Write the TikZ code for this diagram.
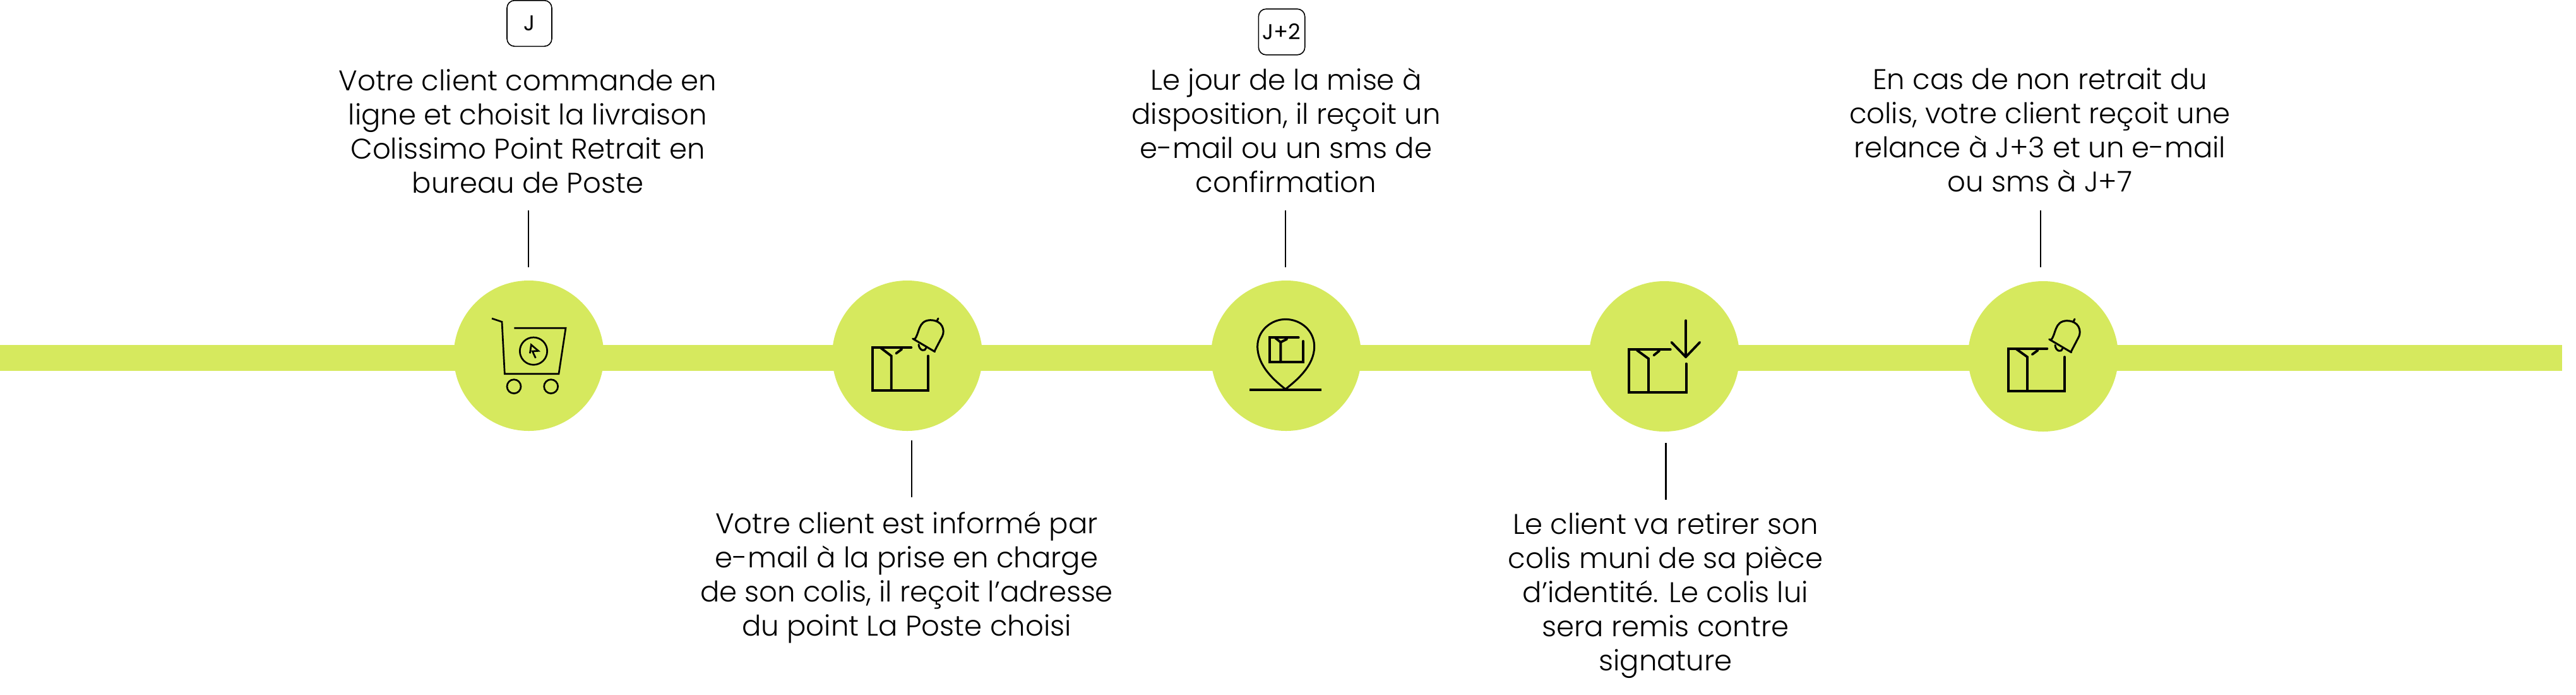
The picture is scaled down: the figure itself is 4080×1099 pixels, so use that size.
\documentclass[tikz,border=0pt]{standalone}
\usepackage{fontspec}
\setmainfont{Poppins}[UprightFont=* Light]
\newfontfamily\boxfont{Poppins}
\definecolor{lime}{HTML}{D6E95E}
\newcommand{\fl}{\rule{0pt}{20pt}}
\newcommand{\parcel}[8]{%
 \draw[iconthick] (#1) -- (#2) -- (#3) -- (#4) -- (#5);
 \draw[iconthick] (#6) -- (#7) -- (#8);}
\newcommand{\belloutline}{%
 \draw[iconmid] (497,408) -- (602,470);
 \draw[iconmid] (505,412) .. controls (530,385) and (520,322) .. (580,320) .. controls (640,320) and (650,370) .. (638,395) -- (600,468);
 \draw[iconmid] (525,436) .. controls (528,468) and (558,470) .. (560,452);
 \draw[iconmid] (610,327) -- (618,312);}
\tikzset{
 x=0.5pt,y=-0.5pt,
 stepdisc/.style={circle,fill=lime,inner sep=0pt,minimum size=119pt},
 para/.style={anchor=north,inner sep=0pt,align=center,font=\fontsize{22.5}{27}\selectfont,text=black},
 daybox/.style={draw=black,line width=0.8pt,rounded corners=6pt,inner sep=0pt,minimum height=36.3pt,font=\boxfont\fontsize{17}{18}\selectfont},
 link/.style={draw=black,line width=1.35pt},
 iconthin/.style={line width=1.35pt,line join=miter,line cap=butt},
 iconmid/.style={line width=1.5pt,line join=round,line cap=round},
 iconthick/.style={line width=1.9pt,line join=miter,line cap=round},
 zoomed/.style={shift={(#1)},scale=0.33333},
}
\begin{document}
\begin{tikzpicture}
\useasboundingbox (0,0) rectangle (4080,1099);
\fill[lime] (0,546) rectangle (4058,587);
\node[stepdisc] (d1) at (837.5,563) {};
\node[stepdisc] (d2) at (1437,563) {};
\node[stepdisc] (d3) at (2037,563) {};
\node[stepdisc] (d4) at (2636,564) {};
\node[stepdisc] (d5) at (3236,564) {};

\node[daybox,minimum width=35.5pt] (b1) at (838.5,37) {J};
\node[daybox,minimum width=36.7pt] (b3) at (2030,50.5) {J+2};

\node[para] (t1) at (836,103) {\fl Votre client commande en\\ligne et choisit la livraison\\Colissimo Point Retrait en\\bureau de Poste};
\node[para] (t2) at (1436,804) {\fl Votre client est informé par\\e-mail à la prise en charge\\de son colis, il reçoit l’adresse\\du point La Poste choisi};
\node[para] (t3) at (2037,102) {\fl Le jour de la mise à\\disposition, il reçoit un\\e-mail ou un sms de\\confirmation};
\node[para] (t4) at (2638,805) {\fl Le client va retirer son\\colis muni de sa pièce\\d’identité. Le colis lui\\sera remis contre\\signature};
\node[para] (t5) at (3231,101) {\fl En cas de non retrait du\\colis, votre client reçoit une\\relance à J+3 et un e-mail\\ou sms à J+7};

\coordinate (a1) at (837,333); \coordinate (e1) at (837,423);
\coordinate (a2) at (1444,697); \coordinate (e2) at (1444,787);
\coordinate (a3) at (2036,333); \coordinate (e3) at (2036,423);
\coordinate (a4) at (2638.5,701); \coordinate (e4) at (2638.5,791);
\coordinate (a5) at (3232,333); \coordinate (e5) at (3232,423);
\foreach \i in {1,...,5} \draw[link] (a\i) -- (e\i);

% cart
\begin{scope}[zoomed={680,400}]
 \draw[iconthin] (297,312) -- (345,328) -- (358,575) -- (615,575) -- (648,358) -- (403,358);
 \draw[iconthin] (495,467) circle [radius=65];
 \draw[iconthin] (402,635) circle [radius=33];
 \draw[iconthin] (578,635) circle [radius=33];
 \draw[iconthin] (478,478) -- (484,437) -- (518,466) -- (490,468) -- (505,500);
\end{scope}
% parcel + bell
\begin{scope}[zoomed={1280,400}]
 \parcel{490,450}{305,450}{305,653}{570,653}{570,490}{345,452}{395,490}{395,653}
 \draw[iconthick] (418,478) -- (445,458);
 \belloutline
\end{scope}
% pin
\begin{scope}[zoomed={1880,400}]
 \draw[line width=1.9pt] (298,652) -- (640,652);
 \draw[iconmid] (468,648) .. controls (420,610) and (335,540) .. (335,445) .. controls (335,370) and (400,316) .. (468,316) .. controls (540,316) and (605,370) .. (605,445) .. controls (605,540) and (515,610) .. (468,648);
 \parcel{530,403}{392,403}{392,520}{552,520}{552,420}{420,405}{445,425}{445,520}
 \draw[iconthick] (445,425) -- (475,410);
\end{scope}
% parcel + arrow
\begin{scope}[zoomed={2480,400}]
 \parcel{497,460}{300,460}{300,663}{572,663}{572,527}{338,463}{393,503}{393,663}
 \draw[iconthick] (418,487) -- (445,465);
 \draw[iconthick] (570,322) -- (570,495);
 \draw[iconthick,line join=round] (502,425) -- (570,495) -- (637,425);
\end{scope}
% parcel + bell again
\begin{scope}[zoomed={3080,401}]
 \parcel{487,452}{302,452}{302,654}{570,654}{570,492}{340,454}{393,492}{393,654}
 \draw[iconthick] (416,480) -- (443,460);
 \belloutline
\end{scope}
\end{tikzpicture}
\end{document}
